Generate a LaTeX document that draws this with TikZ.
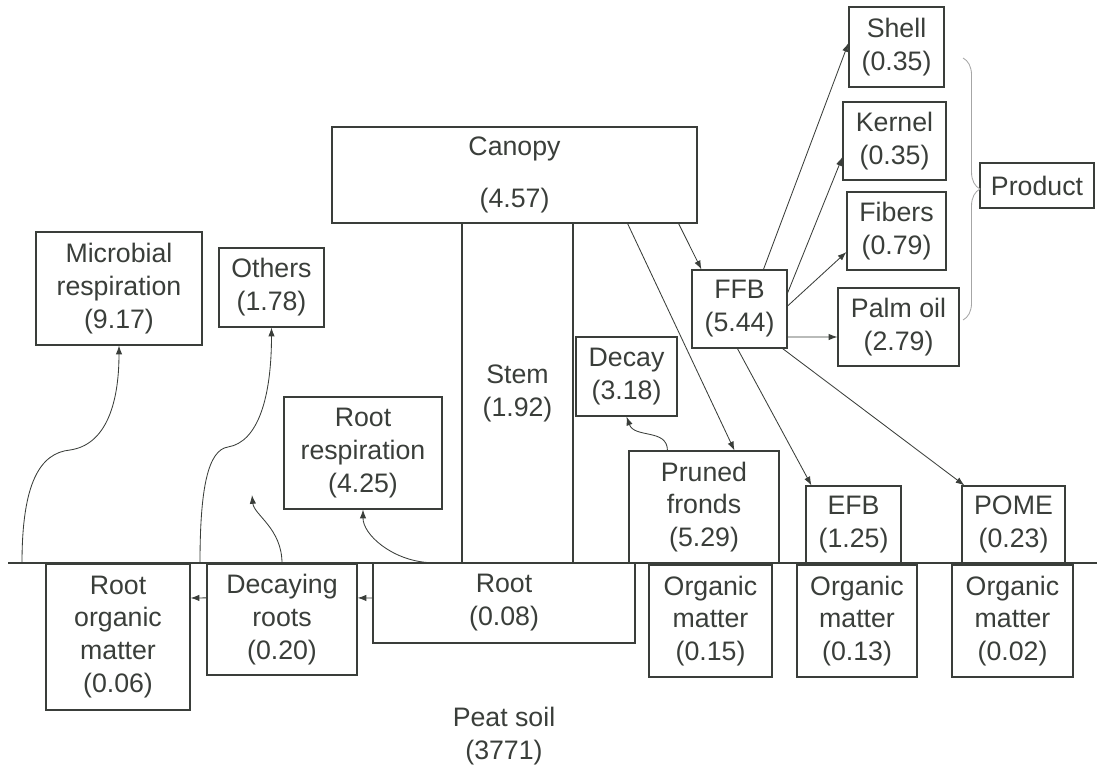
\documentclass[tikz,border=0pt]{standalone}
\usepackage{fontspec}
\setmainfont{Liberation Sans}
\usepackage{tikz}
\usetikzlibrary{arrows.meta, positioning, calc, decorations.pathreplacing}
\definecolor{ink}{RGB}{58,62,58}

\begin{document}
\begin{tikzpicture}[
    x=0.025cm, y=-0.025cm,
    box/.style={draw=ink, line width=0.8pt, inner sep=0pt, align=center, text=ink,
               font=\fontsize{19}{23.4}\selectfont},
    arrow/.style={-{Latex[length=2.2mm, width=1.6mm]}, line width=0.6pt, draw=ink}
]
\useasboundingbox (0,0) rectangle (1097,767);
\node[box, minimum width=4.15cm, minimum height=2.825cm] (micro) at (119,288.5) {Microbial\\respiration\\(9.17)};
\node[box, minimum width=2.625cm, minimum height=1.975cm] (others) at (271.5,287.5) {Others\\(1.78)};
\node[box, minimum width=3.95cm, minimum height=2.8cm] (rootresp) at (363,453) {Root\\respiration\\(4.25)};
\node[box, minimum width=9.125cm, minimum height=2.4cm] (canopy) at (514.5,175) {Canopy\\[0.475cm](4.57)};
\node[box, minimum width=2.775cm, minimum height=8.5cm] (stem) at (517.5,393) {Stem\\(1.92)};
\node[box, minimum width=2.525cm, minimum height=1.975cm] (decay) at (626.5,376.5) {Decay\\(3.18)};
\node[box, minimum width=2.375cm, minimum height=1.95cm] (ffb) at (739.5,309) {FFB\\(5.44)};
\node[box, minimum width=2.375cm, minimum height=2cm] (shell) at (896.5,47) {Shell\\(0.35)};
\node[box, minimum width=2.575cm, minimum height=1.95cm] (kernel) at (894.5,141) {Kernel\\(0.35)};
\node[box, minimum width=2.475cm, minimum height=1.95cm] (fibers) at (896.5,231) {Fibers\\(0.79)};
\node[box, minimum width=3.025cm, minimum height=1.95cm] (palmoil) at (898.5,327) {Palm oil\\(2.79)};
\node[box, minimum width=2.85cm, minimum height=1.125cm] (product) at (1037,185.5) {Product};
\node[box, minimum width=3.75cm, minimum height=2.8cm] (pruned) at (704,507) {Pruned\\fronds\\(5.29)};
\node[box, minimum width=2.375cm, minimum height=1.925cm] (efb) at (853.5,524.5) {EFB\\(1.25)};
\node[box, minimum width=2.575cm, minimum height=1.925cm] (pome) at (1013.5,524.5) {POME\\(0.23)};
\node[box, minimum width=3.6cm, minimum height=3.65cm] (rootom) at (118,637) {Root\\organic\\matter\\(0.06)};
\node[box, minimum width=3.75cm, minimum height=2.775cm] (decroots) at (282,619.5) {Decaying\\roots\\(0.20)};
\node[box, minimum width=6.55cm, minimum height=2cm] (root) at (504,603) {Root\\(0.08)};
\node[box, minimum width=3.075cm, minimum height=2.8cm] (om1) at (710.5,621) {Organic\\matter\\(0.15)};
\node[box, minimum width=3cm, minimum height=2.8cm] (om2) at (857,621) {Organic\\matter\\(0.13)};
\node[box, minimum width=3.025cm, minimum height=2.8cm] (om3) at (1012.5,621) {Organic\\matter\\(0.02)};
\node[box, draw=none] (peat) at (504,736) {Peat soil\\(3771)};

\coordinate (gl) at (8,563);
\coordinate (gr) at (1097,563);
\coordinate (micro-src) at (22,563);
\coordinate (others-src) at (200,563);
\coordinate (dr-up) at (252,495);
\coordinate (brtop) at (963,58);
\coordinate (brbot) at (963,320);
\draw[ink, line width=0.8pt] (gl) -- (gr);

\draw[arrow] ([xshift=-0.475cm]canopy.south east) -- ([xshift=0.25cm]ffb.north west);
\draw[arrow] ([xshift=-1.75cm]canopy.south east) -- ([xshift=2.65cm]pruned.north west);
\draw[arrow] ([xshift=1.8cm]ffb.north west) -- ([yshift=0.1cm]shell.west);
\draw[arrow] ([yshift=0.4cm]ffb.east) -- ([yshift=-0.4cm]kernel.west);
\draw[arrow] ([yshift=0.075cm]ffb.east) -- ([yshift=-0.525cm]fibers.west);
\draw[arrow] ([yshift=-0.7cm]ffb.east) -- ([yshift=-0.25cm]palmoil.west);
\draw[arrow] ([xshift=1.15cm]ffb.south west) -- ([xshift=0.15cm]efb.north west);
\draw[arrow] ([xshift=-0.125cm]ffb.south east) -- ([xshift=0.075cm]pome.north west);
\draw[arrow] ([xshift=0.975cm]pruned.north west) .. controls +(0,-22) and +(8,22) .. (decay.south);
\draw[arrow] ([xshift=1.35cm]root.north west) .. controls +(-35,-3) and +(0,25) .. (rootresp.south);
\draw[arrow] (decroots.north) .. controls +(0,-35) and +(2,20) .. (dr-up);
\draw[arrow] (others-src) .. controls +(0,-75) and +(-20,3) .. ++(28,-116)
    .. controls +(30,-5) and +(0,70) .. (others.south);
\draw[arrow] (micro-src) .. controls +(0,-80) and +(-30,3) .. ++(48,-113)
    .. controls +(35,-5) and +(0,60) .. (micro.south);
\draw[arrow] ([yshift=0.125cm]root.west) -- ([yshift=0.54cm]decroots.east);
\draw[arrow] ([yshift=0.54cm]decroots.west) -- ([yshift=0.975cm]rootom.east);
\draw[decorate, decoration={brace, amplitude=0.425cm}, draw=gray!70, line width=0.6pt] (brtop) -- (brbot);
\end{tikzpicture}
\end{document}
